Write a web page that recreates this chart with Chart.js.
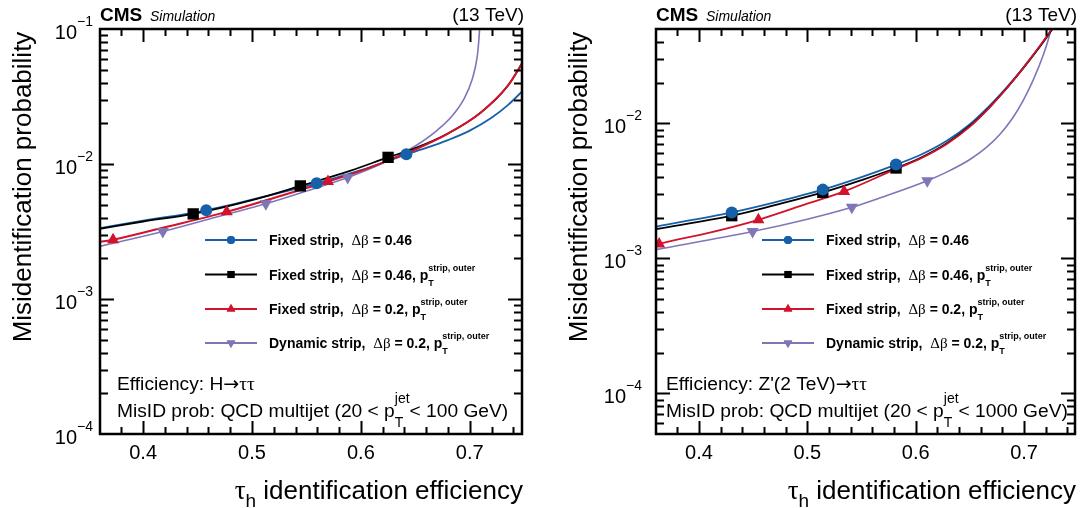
<!DOCTYPE html>
<html>
<head>
<meta charset="utf-8">
<script src="https://cdn.jsdelivr.net/npm/chart.js@4.4.0/dist/chart.umd.min.js"></script>
<style>
html, body { margin: 0; padding: 0; background: #fff; }
#wrap { position: relative; width: 1083px; height: 508px; overflow: hidden; }
.pane { position: absolute; top: 0; }
</style>
</head>
<body>
<div id="wrap">
  <div class="pane" style="left:0"><canvas id="cH" width="540" height="508"></canvas></div>
  <div class="pane" style="left:540px"><canvas id="cZ" width="543" height="508"></canvas></div>
</div>
<script>
// ---- left panel: H -> tautau (curves) ----
const hBlueX   = [0.36, 0.40, 0.458, 0.51, 0.5594, 0.60, 0.6418, 0.66, 0.68, 0.70, 0.72, 0.735, 0.75];
const hBlueY   = [3.35e-3, 3.8e-3, 4.54e-3, 5.7e-3, 7.2e-3, 9.0e-3, 1.18e-2, 1.315e-2, 1.503e-2, 1.767e-2, 2.2e-2, 2.73e-2, 3.57e-2];
const hBlackX  = [0.36, 0.40, 0.446, 0.50, 0.5444, 0.59, 0.625, 0.65, 0.68, 0.71, 0.735, 0.75];
const hBlackY  = [3.31e-3, 3.75e-3, 4.27e-3, 5.4e-3, 6.88e-3, 8.9e-3, 1.12e-2, 1.31e-2, 1.68e-2, 2.4e-2, 3.8e-2, 5.9e-2];
const hRedX    = [0.36, 0.3724, 0.42, 0.4768, 0.52, 0.5698, 0.60, 0.625, 0.65, 0.68, 0.71, 0.735, 0.75];
const hRedY    = [2.65e-3, 2.75e-3, 3.4e-3, 4.42e-3, 5.6e-3, 7.41e-3, 8.9e-3, 1.06e-2, 1.28e-2, 1.68e-2, 2.4e-2, 3.8e-2, 5.9e-2];
const hPurpleX = [0.36, 0.4181, 0.47, 0.5127, 0.55, 0.5879, 0.62, 0.6425, 0.655, 0.67, 0.684, 0.6945, 0.7022, 0.7068, 0.7083, 0.7095, 0.711];
const hPurpleY = [2.45e-3, 3.16e-3, 4.1e-3, 5.07e-3, 6.3e-3, 7.94e-3, 1.013e-2, 1.253e-2, 1.443e-2, 1.775e-2, 2.28e-2, 3.01e-2, 4.22e-2, 6.18e-2, 8.15e-2, 0.1135, 0.17];
// left panel markers (working points)
const hBlueMX   = [0.458, 0.5594, 0.6418];
const hBlueMY   = [4.54e-3, 7.2e-3, 1.18e-2];
const hBlackMX  = [0.446, 0.5444, 0.625];
const hBlackMY  = [4.27e-3, 6.88e-3, 1.12e-2];
const hRedMX    = [0.3724, 0.4768, 0.5698];
const hRedMY    = [2.75e-3, 4.42e-3, 7.41e-3];
const hPurpleMX = [0.4181, 0.5127, 0.5879];
const hPurpleMY = [3.16e-3, 5.07e-3, 7.94e-3];

// ---- right panel: Z'(2 TeV) -> tautau ----
const zBlueX   = [0.3604, 0.4303, 0.47, 0.5143, 0.55, 0.5819, 0.6037, 0.6284, 0.65, 0.6685, 0.684, 0.6963, 0.7086, 0.7179, 0.7256, 0.731];
const zBlueY   = [1.72e-3, 2.19e-3, 2.6e-3, 3.23e-3, 4.0e-3, 4.95e-3, 5.81e-3, 7.4e-3, 9.86e-3, 1.36e-2, 1.85e-2, 2.42e-2, 3.22e-2, 4.04e-2, 4.94e-2, 5.74e-2];
const zBlackX  = [0.3604, 0.4303, 0.47, 0.5143, 0.55, 0.5819, 0.6037, 0.6284, 0.65, 0.6685, 0.684, 0.6963, 0.7086, 0.7179, 0.7256, 0.731];
const zBlackY  = [1.65e-3, 2.07e-3, 2.48e-3, 3.08e-3, 3.8e-3, 4.67e-3, 5.52e-3, 7.1e-3, 9.56e-3, 1.327e-2, 1.82e-2, 2.39e-2, 3.2e-2, 4.03e-2, 4.94e-2, 5.74e-2];
const zRedX    = [0.3604, 0.3633, 0.41, 0.4549, 0.50, 0.534, 0.5819, 0.6037, 0.6284, 0.65, 0.6685, 0.684, 0.6963, 0.7086, 0.7179, 0.7256, 0.731];
const zRedY    = [1.26e-3, 1.28e-3, 1.55e-3, 1.93e-3, 2.54e-3, 3.13e-3, 4.6e-3, 5.45e-3, 7.0e-3, 9.45e-3, 1.32e-2, 1.82e-2, 2.4e-2, 3.22e-2, 4.07e-2, 5.0e-2, 5.8e-2];
const zPurpleX = [0.3604, 0.4495, 0.50, 0.5411, 0.5667, 0.6107, 0.63, 0.65, 0.665, 0.678, 0.689, 0.699, 0.7086, 0.7179, 0.7225, 0.7256, 0.728];
const zPurpleY = [1.16e-3, 1.58e-3, 1.95e-3, 2.39e-3, 2.8e-3, 3.76e-3, 4.41e-3, 5.4e-3, 6.6e-3, 8.34e-3, 1.082e-2, 1.467e-2, 2.11e-2, 3.24e-2, 4.22e-2, 5.27e-2, 6.5e-2];
const zBlueMX   = [0.4303, 0.5143, 0.5819];
const zBlueMY   = [2.19e-3, 3.23e-3, 4.95e-3];
const zBlackMX  = [0.4303, 0.5143, 0.5819];
const zBlackMY  = [2.07e-3, 3.08e-3, 4.67e-3];
const zRedMX    = [0.3633, 0.4549, 0.534];
const zRedMY    = [1.28e-3, 1.93e-3, 3.13e-3];
const zPurpleMX = [0.4495, 0.5411, 0.6107];
const zPurpleMY = [1.58e-3, 2.39e-3, 3.76e-3];

// axis ticks
const xMajorTicks = [0.4, 0.5, 0.6, 0.7];
const xTickLabels = ['0.4', '0.5', '0.6', '0.7'];

const BLUE = '#1560a8', BLACK = '#000000', RED = '#d3122c', PURPLE = '#7f76b8';
const SANS = '"Liberation Sans", Arial, Helvetica, sans-serif';
const SERIF = '"Liberation Serif", "DejaVu Serif", serif';

const pts = (xs, ys) => xs.map((x, i) => ({ x, y: ys[i] }));

function curve(xs, ys, color, w) {
    return { type: 'line', data: pts(xs, ys), borderColor: color, borderWidth: w, pointRadius: 0,
             cubicInterpolationMode: 'monotone', fill: false, order: 2 };
}
function marks(xs, ys, color, style, r, rot) {
    return { type: 'scatter', data: pts(xs, ys), showLine: false, pointStyle: style, pointRadius: r,
             pointRotation: rot || 0, backgroundColor: color, borderColor: color, borderWidth: 0, order: 1 };
}

// draws a row of text pieces; {sup, sub} pieces stack like ROOT p_{T}^{...}
function rich(ctx, x, y, parts, align) {
    const widths = parts.map(p => {
        ctx.font = p.f;
        if (p.sup !== undefined) return Math.max(ctx.measureText(p.sup).width, ctx.measureText(p.sub).width);
        return ctx.measureText(p.t).width;
    });
    const total = widths.reduce((s, v) => s + v, 0);
    let cx = align === 'right' ? x - total : x;
    parts.forEach((p, i) => {
        ctx.font = p.f;
        if (p.sup !== undefined) {
            ctx.fillText(p.sup, cx, y + p.up);
            ctx.fillText(p.sub, cx, y + p.dn);
        } else {
            ctx.fillText(p.t, cx, y + (p.dy || 0));
        }
        cx += widths[i];
    });
}

function legendRows() {
    const B = 'bold 14px ' + SANS, S = '15px ' + SERIF, SS = 'bold 9px ' + SANS;
    const pt = { sup: 'strip, outer', sub: 'T', f: SS, up: -9, dn: 6 };
    return [
        { color: BLUE, style: 'circle', r: 4, rot: 0,
          parts: [{ t: 'Fixed strip,  ', f: B }, { t: 'Δβ', f: S }, { t: ' = 0.46', f: B }] },
        { color: BLACK, style: 'rect', r: 5, rot: 0,
          parts: [{ t: 'Fixed strip,  ', f: B }, { t: 'Δβ', f: S }, { t: ' = 0.46, p', f: B }, pt] },
        { color: RED, style: 'triangle', r: 5, rot: 0,
          parts: [{ t: 'Fixed strip,  ', f: B }, { t: 'Δβ', f: S }, { t: ' = 0.2, p', f: B }, pt] },
        { color: PURPLE, style: 'triangle', r: 5, rot: 180,
          parts: [{ t: 'Dynamic strip,  ', f: B }, { t: 'Δβ', f: S }, { t: ' = 0.2, p', f: B }, pt] }
    ];
}

function decorPlugin(cfg) {
    return {
        id: 'rootStyle',
        afterDraw(chart) {
            const ctx = chart.ctx, a = chart.chartArea, xs = chart.scales.x, ys = chart.scales.y;
            ctx.save();
            ctx.fillStyle = '#000';
            ctx.strokeStyle = '#000';
            ctx.textBaseline = 'alphabetic';

            // ticks, inside on all four sides
            ctx.lineWidth = 2;
            ctx.beginPath();
            for (let i = 36; i <= 75; i += 2) {
                const v = i / 100;
                if (v <= xs.min || v >= xs.max) continue;
                const px = Math.round(xs.getPixelForValue(v)) + 0.5;
                const len = (i % 10 === 0) ? 13 : 7;
                ctx.moveTo(px, a.bottom); ctx.lineTo(px, a.bottom - len);
                ctx.moveTo(px, a.top); ctx.lineTo(px, a.top + len);
            }
            for (let e = -5; e <= -1; e++) {
                for (let m = 1; m <= 9; m++) {
                    const v = m * Math.pow(10, e);
                    if (v <= ys.min * 1.0001 || v >= ys.max * 0.9999) continue;
                    const py = Math.round(ys.getPixelForValue(v)) + 0.5;
                    const len = m === 1 ? 14 : 8;
                    ctx.moveTo(a.left, py); ctx.lineTo(a.left + len, py);
                    ctx.moveTo(a.right, py); ctx.lineTo(a.right - len, py);
                }
            }
            ctx.stroke();

            // frame
            ctx.lineWidth = 2.5;
            ctx.strokeRect(a.left, a.top, a.right - a.left, a.bottom - a.top);

            // x tick labels
            ctx.font = '20px ' + SANS;
            ctx.textAlign = 'center';
            xMajorTicks.forEach((v, i) => ctx.fillText(xTickLabels[i], xs.getPixelForValue(v), a.bottom + 25));
            ctx.textAlign = 'left';

            // y tick labels (decades)
            for (let e = -5; e <= -1; e++) {
                const v = Math.pow(10, e);
                if (v < ys.min * 0.999 || v > ys.max * 1.001) continue;
                const py = ys.getPixelForValue(v);
                rich(ctx, cfg.yLabelRight, py + 10,
                     [{ t: '10', f: '20px ' + SANS }, { t: '−' + (-e), f: '14px ' + SANS, dy: -13 }], 'right');
            }

            // header
            rich(ctx, a.left, 21, [{ t: 'CMS', f: 'bold 19px ' + SANS }, { t: '  Simulation', f: 'italic 14px ' + SANS }], 'left');
            rich(ctx, a.right + 2, 21, [{ t: '(13 TeV)', f: '19px ' + SANS }], 'right');

            // axis titles
            rich(ctx, a.right + 1, 499, [{ t: 'τ', f: '27px ' + SERIF }, { t: 'h', f: '19px ' + SANS, dy: 8 },
                                        { t: ' identification efficiency', f: '26px ' + SANS }], 'right');
            ctx.save();
            ctx.translate(cfg.yTitleX, 187);
            ctx.rotate(-Math.PI / 2);
            ctx.font = '26px ' + SANS;
            ctx.textAlign = 'center';
            ctx.fillText('Misidentification probability', 0, 0);
            ctx.restore();

            // legend
            const rowsY = [240, 274.5, 309, 343];
            legendRows().forEach((row, i) => {
                const y = rowsY[i];
                ctx.strokeStyle = row.color;
                ctx.lineWidth = 1.8;
                ctx.beginPath();
                ctx.moveTo(cfg.legX, y); ctx.lineTo(cfg.legX + 52, y);
                ctx.stroke();
                ctx.fillStyle = row.color;
                Chart.helpers.drawPoint(ctx, { pointStyle: row.style, radius: row.r, rotation: row.rot, borderWidth: 0 },
                                        cfg.legX + 26, y);
                ctx.fill();
                ctx.fillStyle = '#000';
                rich(ctx, cfg.legX + 64, y + 5, row.parts, 'left');
            });

            // sample description
            const R = '19.2px ' + SANS, G = '19.2px ' + SERIF, A = '19px "DejaVu Sans", sans-serif';
            rich(ctx, cfg.txtX, 390, cfg.effParts(R, G, A), 'left');
            rich(ctx, cfg.txtX, 417, [{ t: 'MisID prob: QCD multijet (20 < p', f: R },
                                      { sup: 'jet', sub: 'T', f: '14px ' + SANS, up: -14, dn: 10 },
                                      { t: '< ' + cfg.ptMax + ' GeV)', f: R }], 'left');
            ctx.restore();
        }
    };
}

function makeChart(id, datasets, cfg) {
    return new Chart(document.getElementById(id), {
        data: { datasets },
        options: {
            responsive: false,
            animation: false,
            devicePixelRatio: 1,
            layout: { padding: cfg.pad },
            plugins: { legend: { display: false }, tooltip: { enabled: false } },
            scales: {
                x: { type: 'linear', min: cfg.xMin, max: cfg.xMax, display: false },
                y: { type: 'logarithmic', min: cfg.yMin, max: cfg.yMax, display: false }
            }
        },
        plugins: [decorPlugin(cfg)]
    });
}

// datasets listed first are drawn on top
makeChart('cH', [
    marks(hBlueMX, hBlueMY, BLUE, 'circle', 6),
    marks(hBlackMX, hBlackMY, BLACK, 'rect', 8),
    marks(hRedMX, hRedMY, RED, 'triangle', 7),
    marks(hPurpleMX, hPurpleMY, PURPLE, 'triangle', 7, 180),
    curve(hRedX, hRedY, RED, 2),
    curve(hBlackX, hBlackY, BLACK, 1.8),
    curve(hBlueX, hBlueY, BLUE, 1.8),
    curve(hPurpleX, hPurpleY, PURPLE, 1.6)
], {
    pad: { left: 100, right: 18, top: 29, bottom: 74 },
    xMin: 0.3604, xMax: 0.748, yMin: 1e-4, yMax: 1e-1,
    yLabelRight: 93, yTitleX: 31, legX: 205, txtX: 117, ptMax: '100',
    effParts: (R, G, A) => [{ t: 'Efficiency: H', f: R }, { t: '→', f: A }, { t: 'ττ', f: G }]
});

makeChart('cZ', [
    marks(zBlueMX, zBlueMY, BLUE, 'circle', 6),
    marks(zBlackMX, zBlackMY, BLACK, 'rect', 8),
    marks(zRedMX, zRedMY, RED, 'triangle', 7),
    marks(zPurpleMX, zPurpleMY, PURPLE, 'triangle', 7, 180),
    curve(zRedX, zRedY, RED, 1.8),
    curve(zBlackX, zBlackY, BLACK, 1.8),
    curve(zBlueX, zBlueY, BLUE, 1.8),
    curve(zPurpleX, zPurpleY, PURPLE, 1.6)
], {
    pad: { left: 116, right: 8, top: 29, bottom: 74 },
    xMin: 0.3604, xMax: 0.747, yMin: 5e-5, yMax: 5e-2,
    yLabelRight: 102, yTitleX: 47, legX: 222, txtX: 126, ptMax: '1000',
    effParts: (R, G, A) => [{ t: "Efficiency: Z'(2 TeV)", f: R }, { t: '→', f: A }, { t: 'ττ', f: G }]
});
</script>
</body>
</html>
